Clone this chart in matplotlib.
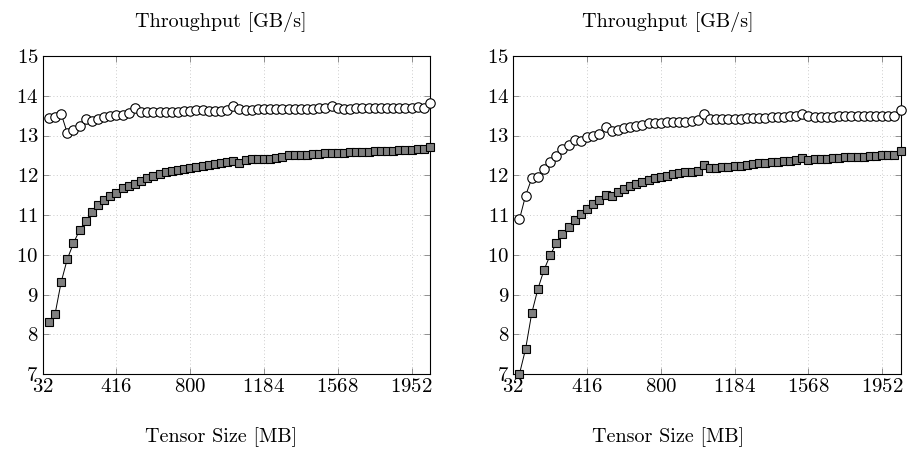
import numpy as np
import matplotlib
matplotlib.use("Agg")
import matplotlib.pyplot as plt

plt.rcParams['font.family'] = 'cmr10'
plt.rcParams['mathtext.fontset'] = 'cm'
plt.rcParams['axes.formatter.use_mathtext'] = True

# tensor sizes in MB
sizes = np.arange(64, 2049, 32)
xticks = [32, 416, 800, 1184, 1568, 1952]
yticks = [7, 8, 9, 10, 11, 12, 13, 14, 15]

# left panel
left_circle = [13.45, 13.47, 13.55, 13.06, 13.14, 13.24, 13.42, 13.37,
               13.42, 13.46, 13.49, 13.51, 13.52, 13.56, 13.68, 13.60,
               13.60, 13.60, 13.60, 13.60, 13.60, 13.60, 13.62, 13.62,
               13.63, 13.63, 13.62, 13.61, 13.62, 13.64, 13.73, 13.66,
               13.65, 13.65, 13.66, 13.66, 13.66, 13.66, 13.67, 13.67,
               13.66, 13.66, 13.67, 13.67, 13.68, 13.70, 13.75, 13.69,
               13.67, 13.67, 13.68, 13.68, 13.68, 13.69, 13.69, 13.70,
               13.70, 13.70, 13.70, 13.70, 13.71, 13.70, 13.82]
left_square = [8.32, 8.50, 9.31, 9.89, 10.29, 10.62, 10.85, 11.07,
               11.25, 11.38, 11.47, 11.56, 11.68, 11.73, 11.79, 11.86,
               11.93, 11.98, 12.03, 12.07, 12.10, 12.13, 12.15, 12.18,
               12.21, 12.24, 12.27, 12.29, 12.31, 12.33, 12.36, 12.32,
               12.38, 12.40, 12.41, 12.41, 12.42, 12.43, 12.47, 12.50,
               12.50, 12.51, 12.52, 12.53, 12.54, 12.55, 12.55, 12.56,
               12.57, 12.58, 12.58, 12.59, 12.59, 12.60, 12.60, 12.61,
               12.62, 12.63, 12.63, 12.64, 12.65, 12.66, 12.72]

# right panel
right_circle = [10.89, 11.49, 11.92, 11.96, 12.16, 12.33, 12.48, 12.65,
                12.76, 12.89, 12.87, 12.95, 13.00, 13.04, 13.21, 13.11,
                13.14, 13.18, 13.21, 13.25, 13.26, 13.31, 13.31, 13.32,
                13.33, 13.34, 13.34, 13.35, 13.37, 13.39, 13.55, 13.41,
                13.41, 13.41, 13.41, 13.42, 13.42, 13.43, 13.44, 13.44,
                13.45, 13.46, 13.46, 13.47, 13.48, 13.49, 13.55, 13.48,
                13.47, 13.47, 13.47, 13.47, 13.48, 13.48, 13.48, 13.48,
                13.48, 13.49, 13.48, 13.48, 13.49, 13.50, 13.63]
right_square = [7.00, 7.63, 8.53, 9.14, 9.62, 9.99, 10.29, 10.52,
                10.71, 10.88, 11.03, 11.14, 11.27, 11.38, 11.50, 11.49,
                11.59, 11.65, 11.73, 11.77, 11.82, 11.88, 11.92, 11.96,
                11.99, 12.03, 12.05, 12.07, 12.09, 12.11, 12.25, 12.17,
                12.18, 12.20, 12.21, 12.23, 12.24, 12.26, 12.28, 12.31,
                12.32, 12.33, 12.34, 12.35, 12.36, 12.38, 12.43, 12.39,
                12.40, 12.41, 12.42, 12.43, 12.44, 12.45, 12.45, 12.46,
                12.47, 12.48, 12.49, 12.50, 12.50, 12.51, 12.61]

W, H = 909, 449
fig = plt.figure(figsize=(W / 100, H / 100), dpi=100)

panels = [
    (42.7, left_circle, left_square, 221),
    (513.3, right_circle, right_square, 668),
]

for x0, circ, sq, tx in panels:
    ax = fig.add_axes([x0 / W, 1 - 374 / H, 387.3 / W, 318 / H])
    ax.plot(sizes, sq, color='black', lw=0.7, marker='s', ms=6.2,
            mfc='#7f7f7f', mec='black', mew=0.8, clip_on=False, zorder=3)
    ax.plot(sizes, circ, color='black', lw=0.7, marker='o', ms=6.8,
            mfc='white', mec='black', mew=0.8, clip_on=False, zorder=4)
    ax.set_xlim(32, 2048)
    ax.set_ylim(7, 15)
    ax.set_xticks(xticks)
    ax.set_yticks(yticks)
    ax.grid(True, color='#bbbbbb', ls=(0, (1, 3)), lw=0.6)
    ax.tick_params(direction='in', length=4, width=0.6, color='#808080',
                   top=True, right=True, labelsize=15)
    ax.tick_params(axis='x', pad=3)
    ax.tick_params(axis='y', pad=3)
    for sp in ax.spines.values():
        sp.set_linewidth(0.8)
        sp.set_color('black')
    fig.text(tx / W, 1 - 22 / H, 'Throughput [GB/s]', ha='center',
             va='center', fontsize=14.5)
    fig.text(tx / W, 1 - 437 / H, 'Tensor Size [MB]', ha='center',
             va='center', fontsize=14.5)

fig.savefig('out.png', dpi=100)
